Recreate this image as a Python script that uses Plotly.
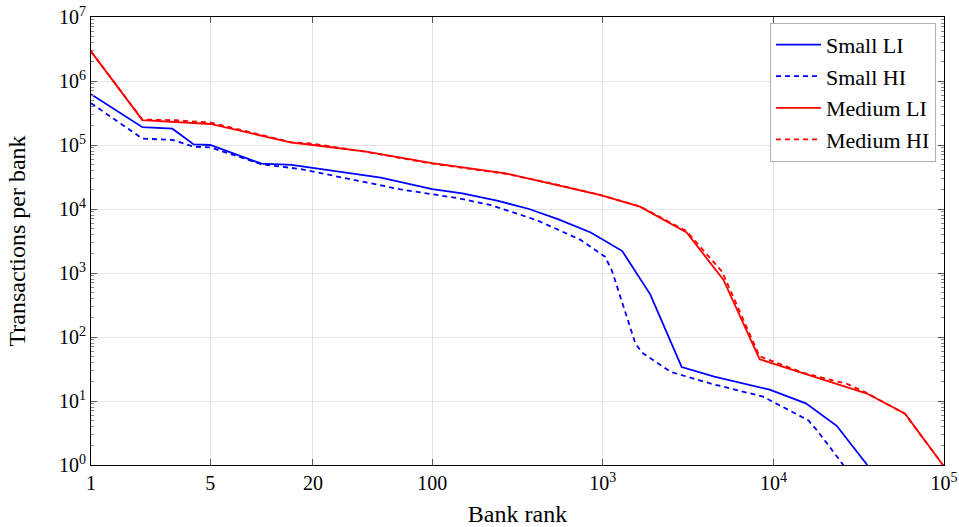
import plotly.graph_objects as go

# ---- data ----
small_li_x = [1, 2, 3, 4, 5, 10, 15, 30, 50, 100, 150, 240, 370, 550, 850, 1300, 1900, 2900, 4500, 9500, 15500, 23500, 35500]
small_li_y = [6.2e5, 1.9e5, 1.8e5, 1.02e5, 1.0e5, 5.1e4, 4.9e4, 3.8e4, 3.1e4, 2.05e4, 1.75e4, 1.35e4, 1.0e4, 6.9e3, 4.3e3, 2.2e3, 460, 34, 24, 15, 9.2, 4.1, 1.0]

small_hi_x = [1, 2, 3, 4, 5, 10, 17, 33, 65, 145, 220, 410, 740, 1030, 1130, 1550, 1700, 2500, 4400, 8700, 16000, 18000, 25700]
small_hi_y = [4.5e5, 1.26e5, 1.2e5, 9.4e4, 9.2e4, 5.0e4, 4.2e4, 2.95e4, 2.03e4, 1.46e4, 1.15e4, 6.7e3, 3.3e3, 1.8e3, 1.1e3, 80, 57, 28.5, 18.4, 11.7, 5.0, 3.5, 1.0]

medium_li_x = [1, 2, 5, 15, 20, 41, 100, 270, 540, 960, 1650, 3100, 5100, 8300, 15000, 35000, 59000, 100000]
medium_li_y = [2.9e6, 2.45e5, 2.13e5, 1.09e5, 1.0e5, 7.85e4, 5.2e4, 3.6e4, 2.37e4, 1.66e4, 1.09e4, 4.3e3, 780, 45, 27, 13.2, 6.4, 0.95]

medium_hi_x = [1, 2, 3, 5, 15, 20, 41, 100, 270, 540, 960, 1650, 3100, 5000, 8300, 15000, 27000, 35000, 59000, 100000]
medium_hi_y = [2.9e6, 2.5e5, 2.45e5, 2.25e5, 1.1e5, 1.05e5, 7.8e4, 5.1e4, 3.55e4, 2.4e4, 1.66e4, 1.1e4, 4.5e3, 1.05e3, 50, 27.5, 18.5, 13.5, 6.3, 0.95]

x_tickvals = [1, 5, 20, 100, 1000, 10000, 100000]
x_ticktext = ["1", "5", "20", "100", "10<sup>3</sup>", "10<sup>4</sup>", "10<sup>5</sup>"]
y_tickvals = [10 ** k for k in range(8)]
y_ticktext = ["10<sup>%d</sup>" % k for k in range(8)]

y_minor = [m * 10 ** k for k in range(7) for m in range(2, 10)]

FONT = "Liberation Serif"
BLUE = "#0000FF"
RED = "#FF0000"

fig = go.Figure()
series = [
    ("Small LI", small_li_x, small_li_y, BLUE, "solid"),
    ("Small HI", small_hi_x, small_hi_y, BLUE, "5px,4px"),
    ("Medium LI", medium_li_x, medium_li_y, RED, "solid"),
    ("Medium HI", medium_hi_x, medium_hi_y, RED, "5px,4px"),
]
for name, xs, ys, col, dash in series:
    fig.add_trace(go.Scatter(x=xs, y=ys, mode="lines", name=name,
                             line=dict(color=col, width=1.8, dash=dash)))

fig.update_layout(
    width=959, height=527,
    margin=dict(l=91, r=15, t=17, b=62, autoexpand=False),
    paper_bgcolor="white", plot_bgcolor="white",
    font=dict(family=FONT, size=20, color="black"),
    legend=dict(x=0.9906, y=0.987, xanchor="right", yanchor="top",
                bordercolor="#b0b0b0", borderwidth=1, bgcolor="white",
                font=dict(family=FONT, size=22), tracegroupgap=0,
                itemwidth=45),
)
fig.update_xaxes(
    type="log", range=[0, 5], automargin=False, ticklabeloverflow="allow",
    tickvals=x_tickvals, ticktext=x_ticktext,
    ticks="inside", ticklen=6, tickcolor="#555555",
    showline=True, linecolor="black", linewidth=1, mirror="ticks",
    showgrid=True, gridcolor="#e3e3e3", gridwidth=1, zeroline=False,
    tickfont=dict(family=FONT, size=20),
    title=dict(text="Bank rank", font=dict(family=FONT, size=24), standoff=17),
)
fig.update_yaxes(
    type="log", range=[0, 7], automargin=False, ticklabeloverflow="allow",
    tickvals=y_tickvals, ticktext=y_ticktext,
    ticks="inside", ticklen=6, tickcolor="#555555",
    minor=dict(tickvals=y_minor, ticks="inside", ticklen=3, tickcolor="#888888", showgrid=False),
    showline=True, linecolor="black", linewidth=1, mirror="ticks",
    showgrid=True, gridcolor="#e3e3e3", gridwidth=1, zeroline=False,
    tickfont=dict(family=FONT, size=20),
    title=dict(text="Transactions per bank", font=dict(family=FONT, size=24), standoff=26),
)

# place the fixed-size figure at the page's top-left corner (no default body margin)
fig.write_html("out.html", config={"displayModeBar": False},
               post_script="document.body.style.margin='0px';")
